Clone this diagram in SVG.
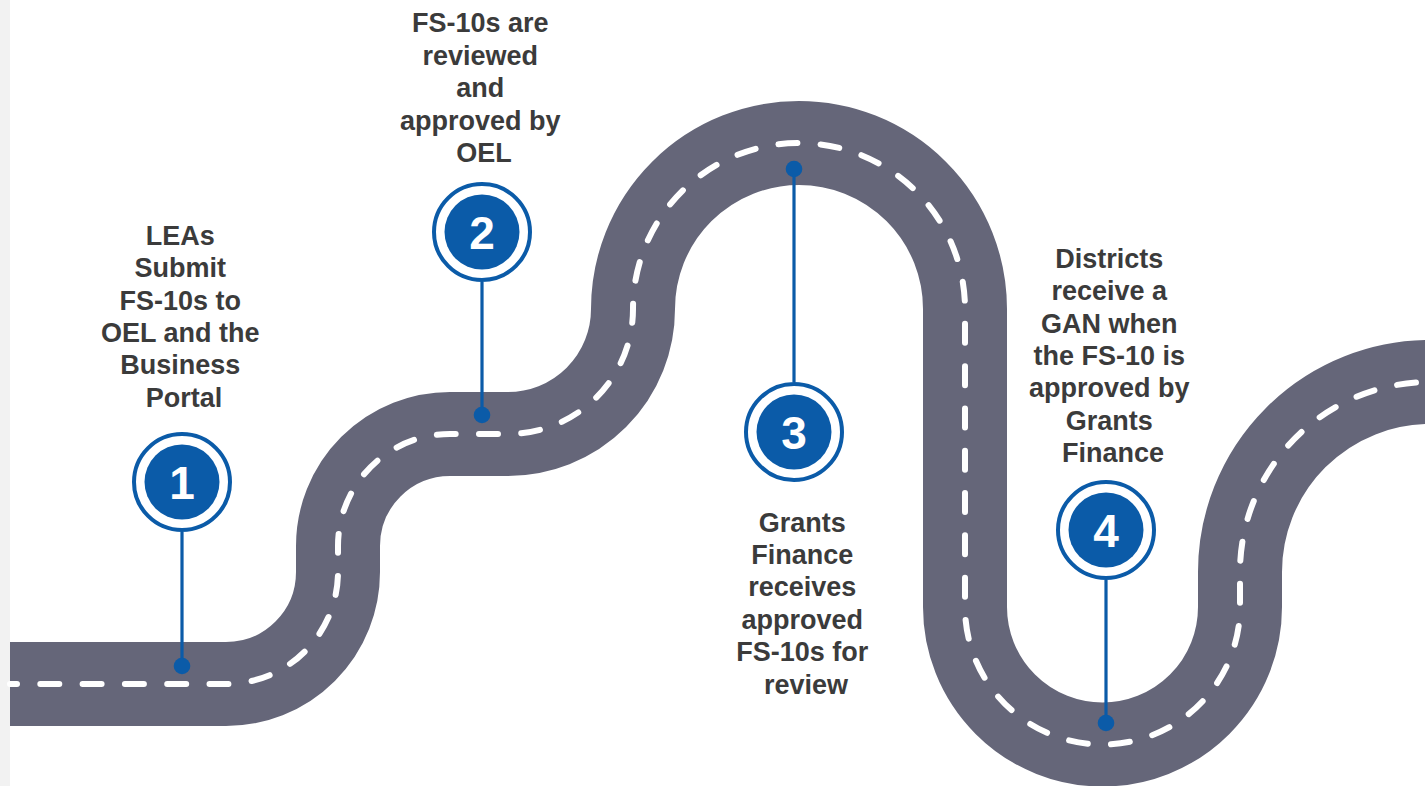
<svg xmlns="http://www.w3.org/2000/svg" width="1425" height="786" viewBox="0 0 1425 786">
  <defs>
    <style>
      .road { fill: none; stroke: #656679; stroke-width: 84; stroke-linecap: butt; stroke-linejoin: round; }
      .lane { fill: none; stroke: #ffffff; stroke-width: 6; stroke-linecap: round; stroke-dasharray: 19 23.3; stroke-dashoffset: 12; }
      .stem { stroke: #0b5ba8; stroke-width: 3.2; fill: none; }
      .dot { fill: #0b5ba8; }
      .ring { fill: #ffffff; stroke: #0b5ba8; stroke-width: 4; }
      .disc { fill: #0b5ba8; }
      .num { font-family: "Liberation Sans", Arial, sans-serif; font-weight: bold; font-size: 46px; fill: #ffffff; text-anchor: middle; }
      .label { font-family: "Liberation Sans", Arial, sans-serif; font-weight: bold; font-size: 27px; fill: #3b3b3b; text-anchor: middle; }
    </style>
  </defs>

  <!-- page -->
  <rect x="0" y="0" width="1425" height="786" fill="#ffffff"/>
  <rect x="0" y="0" width="10" height="786" fill="#f2f2f2"/>

  <!-- winding road with centre lane markings -->
  <g id="road">
    <path id="road-centre" class="road" d="M 10 684 H 226 A 112 112 0 0 0 338 572 V 546 A 112 112 0 0 1 450 434 H 508 A 125 125 0 0 0 633 309 A 166 166 0 0 1 965 309 V 607 A 137.5 137.5 0 0 0 1240 607 V 572 A 190 190 0 0 1 1430 382 H 1440"/>
    <path class="lane" d="M 10 684 H 226 A 112 112 0 0 0 338 572 V 546 A 112 112 0 0 1 450 434 H 508 A 125 125 0 0 0 633 309 A 166 166 0 0 1 965 309 V 607 A 137.5 137.5 0 0 0 1240 607 V 572 A 190 190 0 0 1 1430 382 H 1440"/>
  </g>

  <!-- stems linking each badge to its point on the road -->
  <g id="connectors">
    <line class="stem" x1="182" y1="532" x2="182" y2="666"/>
    <circle class="dot" cx="182" cy="666" r="8.3"/>
    <line class="stem" x1="482" y1="282" x2="482" y2="415"/>
    <circle class="dot" cx="482" cy="415" r="8.3"/>
    <line class="stem" x1="794" y1="382" x2="794" y2="169"/>
    <circle class="dot" cx="794" cy="169" r="8.3"/>
    <line class="stem" x1="1106" y1="580" x2="1106" y2="723"/>
    <circle class="dot" cx="1106" cy="723" r="8.3"/>
  </g>

  <!-- step 1 -->
  <g id="step-1">
    <circle class="ring" cx="182" cy="482" r="48"/>
    <circle class="disc" cx="182" cy="482" r="37.5"/>
    <text class="num" x="182" y="498.5">1</text>
    <text class="label">
      <tspan x="184" y="245">LEAs</tspan>
      <tspan x="184" y="277.3">Submit</tspan>
      <tspan x="184" y="309.6">FS-10s to</tspan>
      <tspan x="184" y="341.9">OEL and the</tspan>
      <tspan x="184" y="374.2">Business</tspan>
      <tspan x="184" y="406.5">Portal</tspan>
    </text>
  </g>

  <!-- step 2 -->
  <g id="step-2">
    <circle class="ring" cx="482" cy="232" r="48"/>
    <circle class="disc" cx="482" cy="232" r="37.5"/>
    <text class="num" x="482" y="248.5">2</text>
    <text class="label">
      <tspan x="484" y="32">FS-10s are</tspan>
      <tspan x="484" y="64.5">reviewed</tspan>
      <tspan x="484" y="97">and</tspan>
      <tspan x="484" y="129.5">approved by</tspan>
      <tspan x="484" y="162">OEL</tspan>
    </text>
  </g>

  <!-- step 3 -->
  <g id="step-3">
    <circle class="ring" cx="794" cy="432" r="48"/>
    <circle class="disc" cx="794" cy="432" r="37.5"/>
    <text class="num" x="794" y="448.5">3</text>
    <text class="label">
      <tspan x="806" y="531.5">Grants</tspan>
      <tspan x="806" y="563.9">Finance</tspan>
      <tspan x="806" y="596.3">receives</tspan>
      <tspan x="806" y="628.7">approved</tspan>
      <tspan x="806" y="661.1">FS-10s for</tspan>
      <tspan x="806" y="693.5">review</tspan>
    </text>
  </g>

  <!-- step 4 -->
  <g id="step-4">
    <circle class="ring" cx="1106" cy="530" r="48"/>
    <circle class="disc" cx="1106" cy="530" r="37.5"/>
    <text class="num" x="1106" y="546.5">4</text>
    <text class="label">
      <tspan x="1113" y="268">Districts</tspan>
      <tspan x="1113" y="300.3">receive a</tspan>
      <tspan x="1113" y="332.6">GAN when</tspan>
      <tspan x="1113" y="364.9">the FS-10 is</tspan>
      <tspan x="1113" y="397.2">approved by</tspan>
      <tspan x="1113" y="429.5">Grants</tspan>
      <tspan x="1113" y="461.8">Finance</tspan>
    </text>
  </g>
</svg>
